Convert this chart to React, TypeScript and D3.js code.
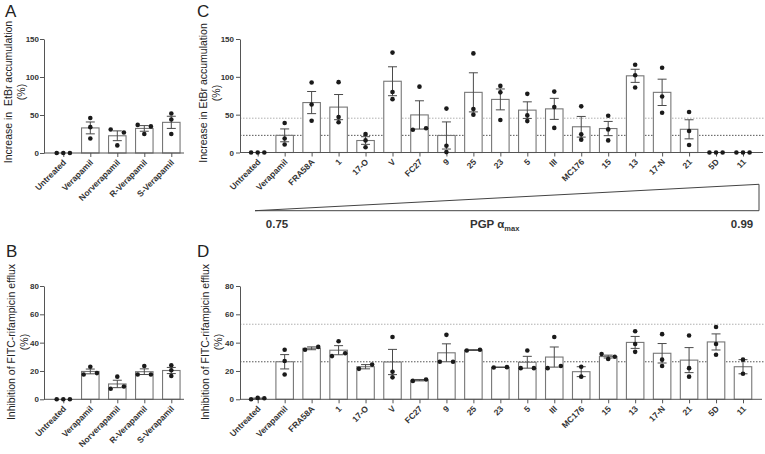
import * as d3 from "d3";
import { useRef, useEffect } from "react";

// Panels A and B: verapamil and its enantiomers / metabolite
const controlGroups = ["Untreated", "Verapamil", "Norverapamil", "R-Verapamil", "S-Verapamil"];
const controlEtbr = [
  [0, 0, 0],
  [46, 34, 19],
  [31, 27, 10],
  [37, 35, 25],
  [52, 44, 25],
];
const controlFitc = [
  [0, 0, 0],
  [23, 17.5, 18.5],
  [16, 7.5, 9],
  [23.5, 17.5, 17.5],
  [24, 20.5, 16.5],
];

// Panels C and D: analogues ordered by PGP alpha max
const analogGroups = [
  "Untreated", "Verapamil", "FRA58A", "1", "17-O", "V", "FC27", "9", "25", "23",
  "5", "III", "MC176", "15", "13", "17-N", "21", "5D", "11",
];
const analogEtbr = [
  [0, 0, 0],
  [39, 18.5, 10.5],
  [92.5, 63.5, 42],
  [93, 47, 40],
  [24.5, 16, 7],
  [132, 80, 70.5],
  [87, 30, 32],
  [58, 9, 0.5],
  [131, 57.5, 50],
  [88, 79.5, 43],
  [77.5, 49, 41.5],
  [80.5, 60, 32.5],
  [61, 24, 17],
  [48.5, 30.5, 16],
  [116, 102, 86],
  [112, 74, 52.5],
  [53.5, 28.5, 10],
  [0, 0, 0],
  [0, 0, 0],
];
const analogFitc = [
  [0, 1, 0.7],
  [35, 27, 17.5],
  [35, 37],
  [41, 30.5, 32.5],
  [21.5, 24.5],
  [44, 19.5, 15.5],
  [13, 14],
  [45.5, 26.5, 26.5],
  [34.5, 35],
  [22.5, 22.7],
  [34.5, 22, 22],
  [44, 22, 23.5],
  [23, 16],
  [32, 28.5, 30],
  [48, 39, 33.5],
  [46, 28, 23.5],
  [45, 22, 16],
  [51, 39, 31.5],
  [28, 18],
];

const etbrTicks = [0, 50, 100, 150];
const fitcTicks = [0, 20, 40, 60, 80];
const alphaRange = [0.75, 0.99];

const FONT = "'Liberation Sans', Arial, sans-serif";

type Panel = {
  letter: string;
  groups: string[];
  values: number[][];
  ticks: number[];
  title: string;
  axisX: number;
  axisEnd: number;
  first: number;
  last: number;
  top: number;
  bottom: number;
  letterPos: [number, number];
  titleX: [number, number];
  titleY: number;
  labelGap: number;
  refLines: boolean;
};

const panels: Panel[] = [
  {
    letter: "A", groups: controlGroups, values: controlEtbr, ticks: etbrTicks,
    title: "Increase in  EtBr accumulation", axisX: 44, axisEnd: 184, first: 63.3, last: 171.3,
    top: 39, bottom: 153, letterPos: [5, 17], titleX: [8, 21], titleY: 92, labelGap: 5, refLines: false,
  },
  {
    letter: "B", groups: controlGroups, values: controlFitc, ticks: fitcTicks,
    title: "Inhibition of FITC-rifampicin efflux", axisX: 44, axisEnd: 184, first: 63.3, last: 171.3,
    top: 286, bottom: 399.3, letterPos: [6, 257], titleX: [11.5, 24.5], titleY: 342, labelGap: 5, refLines: false,
  },
  {
    letter: "C", groups: analogGroups, values: analogEtbr, ticks: etbrTicks,
    title: "Increase in EtBr accumulation", axisX: 240, axisEnd: 763, first: 257.7, last: 743,
    top: 39, bottom: 152.5, letterPos: [197, 17], titleX: [203.5, 216.5], titleY: 93, labelGap: 6, refLines: true,
  },
  {
    letter: "D", groups: analogGroups, values: analogFitc, ticks: fitcTicks,
    title: "Inhibition of FITC-rifampicin efflux", axisX: 240, axisEnd: 762, first: 257.7, last: 743,
    top: 286, bottom: 399.3, letterPos: [197, 257], titleX: [205, 218], titleY: 342, labelGap: 6, refLines: true,
  },
];

const barWidth = 17.5;
const capWidth = 9;
const dotR = 2.3;
const spread = 6.6;

// spread overlapping dots sideways, GraphPad style
function dotOffsets(vals: number[], y: d3.ScaleLinear<number, number>) {
  const order = vals.map((v, i) => i).sort((a, b) => vals[a] - vals[b]);
  const rows: number[][] = [];
  order.forEach((i) => {
    const row = rows[rows.length - 1];
    if (row && Math.abs(y(vals[row[row.length - 1]]) - y(vals[i])) < 4.3) row.push(i);
    else rows.push([i]);
  });
  const off = vals.map(() => 0);
  rows.forEach((row) => {
    row.sort((a, b) => a - b);
    const n = row.length;
    row.forEach((idx, k) => {
      off[idx] = n === 2 ? (k === 0 ? -spread : spread) : (k - (n - 1) / 2) * spread;
    });
  });
  return off;
}

function drawPanel(svg: any, p: Panel) {
  const x = d3.scalePoint<string>().domain(p.groups).range([p.first, p.last]);
  const y = d3.scaleLinear().domain([0, p.ticks[p.ticks.length - 1]]).range([p.bottom, p.top]);
  const g = svg.append("g").style("font-family", FONT);

  const stats = p.values.map((v) => {
    const mean = d3.mean(v) || 0;
    const sd = v.length > 1 ? d3.deviation(v) || 0 : 0;
    return { mean, sem: sd / Math.sqrt(v.length) };
  });

  if (p.refLines) {
    const ref = stats[1].mean;
    [
      { v: 2 * ref, c: "#b0b0b0" },
      { v: ref, c: "#555" },
    ].forEach((r) => {
      g.append("line")
        .attr("x1", p.axisX).attr("x2", 765)
        .attr("y1", y(r.v)).attr("y2", y(r.v))
        .attr("stroke", r.c).attr("stroke-width", 1)
        .attr("stroke-dasharray", "1.5,1.5");
    });
  }

  // bars
  g.selectAll("rect.bar")
    .data(p.groups.map((name, i) => ({ name, ...stats[i] })).filter((d) => y(0) - y(d.mean) > 2))
    .join("rect")
    .attr("class", "bar")
    .attr("x", (d: any) => x(d.name)! - barWidth / 2)
    .attr("y", (d: any) => y(d.mean))
    .attr("width", barWidth)
    .attr("height", (d: any) => y(0) - y(d.mean))
    .attr("fill", "#fff")
    .attr("stroke", "#777")
    .attr("stroke-width", 1.1);

  // error bars (SEM)
  p.groups.forEach((name, i) => {
    const s = stats[i];
    if (s.sem <= 0) return;
    const cx = x(name)!;
    const eg = g.append("g").attr("stroke", "#4a4a4a").attr("stroke-width", 1);
    eg.append("line").attr("x1", cx).attr("x2", cx).attr("y1", y(s.mean - s.sem)).attr("y2", y(s.mean + s.sem));
    [s.mean - s.sem, s.mean + s.sem].forEach((v) => {
      eg.append("line").attr("x1", cx - capWidth / 2).attr("x2", cx + capWidth / 2).attr("y1", y(v)).attr("y2", y(v));
    });
  });

  // y axis
  const ya = g.append("g")
    .attr("transform", `translate(${p.axisX},0)`)
    .call(d3.axisLeft(y).tickValues(p.ticks).tickSize(4).tickSizeOuter(0).tickPadding(p.labelGap - 4));
  ya.selectAll("path,line").attr("stroke", "#555");
  ya.selectAll("text")
    .attr("fill", "#333").attr("font-size", 8).attr("font-weight", "bold").attr("font-family", FONT);

  // x axis
  g.append("line")
    .attr("x1", p.axisX).attr("x2", p.axisEnd)
    .attr("y1", p.bottom).attr("y2", p.bottom)
    .attr("stroke", "#555");
  const xa = g.append("g")
    .attr("transform", `translate(0,${p.bottom})`)
    .call(d3.axisBottom(x).tickSize(4).tickSizeOuter(0));
  xa.select(".domain").remove();
  xa.selectAll("line").attr("stroke", "#555");
  xa.selectAll("text")
    .attr("x", 0).attr("y", 0).attr("dy", 0)
    .attr("transform", "translate(3,10) rotate(-45)")
    .attr("text-anchor", "end")
    .attr("fill", "#333").attr("font-size", 8.5).attr("font-weight", "bold").attr("font-family", FONT);

  // individual points
  p.values.forEach((vals, i) => {
    const off = dotOffsets(vals, y);
    g.append("g").selectAll("circle")
      .data(vals)
      .join("circle")
      .attr("cx", (_: number, k: number) => x(p.groups[i])! + off[k])
      .attr("cy", (v: number) => y(v))
      .attr("r", dotR)
      .attr("fill", "#1a1a1a");
  });

  // axis title
  const t1 = g.append("text")
    .attr("transform", `translate(${p.titleX[0]},${p.titleY}) rotate(-90)`)
    .attr("text-anchor", "middle").attr("dy", "0.35em")
    .attr("font-size", 10.5).attr("fill", "#222")
    .style("white-space", "pre")
    .text(p.title);
  t1.attr("xml:space", "preserve");
  g.append("text")
    .attr("transform", `translate(${p.titleX[1]},${p.titleY}) rotate(-90)`)
    .attr("text-anchor", "middle").attr("dy", "0.35em")
    .attr("font-size", 10.5).attr("fill", "#222")
    .text("(%)");

  // panel letter
  g.append("text")
    .attr("x", p.letterPos[0]).attr("y", p.letterPos[1])
    .attr("font-size", 17).attr("fill", "#222")
    .text(p.letter);
}

function drawGradient(svg: any) {
  const gx = d3.scaleLinear().domain(alphaRange).range([255, 759]);
  const gh = d3.scaleLinear().domain(alphaRange).range([210.7, 184.3]);
  const g = svg.append("g").style("font-family", FONT);
  const pts: [number, number][] = [
    [gx(alphaRange[0]), gh(alphaRange[0])],
    [gx(alphaRange[1]), gh(alphaRange[1])],
    [gx(alphaRange[1]), gh(alphaRange[0])],
  ];
  g.append("path")
    .attr("d", d3.line()(pts)! + "Z")
    .attr("fill", "none").attr("stroke", "#444").attr("stroke-width", 1);
  g.append("text")
    .attr("x", gx(alphaRange[0]) + 22).attr("y", 227.5)
    .attr("text-anchor", "middle").attr("font-size", 11.5).attr("font-weight", "bold").attr("fill", "#333")
    .text(alphaRange[0].toFixed(2));
  g.append("text")
    .attr("x", gx(alphaRange[1]) - 17).attr("y", 227.5)
    .attr("text-anchor", "middle").attr("font-size", 11.5).attr("font-weight", "bold").attr("fill", "#333")
    .text(alphaRange[1].toFixed(2));
  const lab = g.append("text")
    .attr("x", 470).attr("y", 227.5)
    .attr("font-size", 11.5).attr("font-weight", "bold").attr("fill", "#333");
  lab.append("tspan").text("PGP \u03b1");
  lab.append("tspan").attr("font-size", 7.5).attr("dy", 3).text("max");
}

export default function App() {
  const ref = useRef<HTMLDivElement | null>(null);

  useEffect(() => {
    d3.select(ref.current).selectAll("svg").remove();
    const svg = d3.select(ref.current)
      .append("svg")
      .attr("width", 765)
      .attr("height", 454)
      .attr("viewBox", "0 0 765 454")
      .style("display", "block")
      .style("background", "#fff");
    panels.forEach((p) => drawPanel(svg, p));
    drawGradient(svg);
  }, []);

  return <div ref={ref} style={{ position: "absolute", left: 0, top: 0 }} />;
}
